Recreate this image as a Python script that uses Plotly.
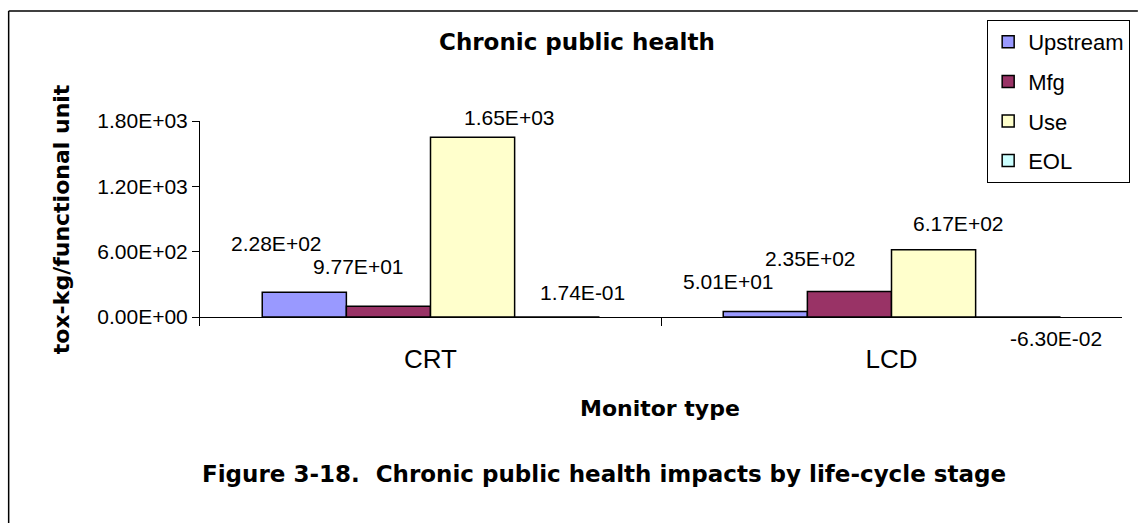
import plotly.graph_objects as go

categories = ["CRT", "LCD"]
series_names = ["Upstream", "Mfg", "Use", "EOL"]
upstream = [228, 50.1]
mfg = [97.7, 235]
use = [1650, 617]
eol = [0.174, -0.063]
labels_upstream = ["2.28E+02", "5.01E+01"]
labels_mfg = ["9.77E+01", "2.35E+02"]
labels_use = ["1.65E+03", "6.17E+02"]
labels_eol = ["1.74E-01", "-6.30E-02"]
tick_vals = [0, 600, 1200, 1800]
tick_text = ["0.00E+00", "6.00E+02", "1.20E+03", "1.80E+03"]

colors = ["#9999FF", "#993366", "#FFFFCC", "#CCFFFF"]
values = [upstream, mfg, use, eol]
texts = [labels_upstream, labels_mfg, labels_use, labels_eol]
# label offsets (px) relative to bar centre / bar top, per series per category
label_dx = [[-27, -36], [-30, -39], [37, 25], [25, 37]]
label_dy = [[49, 30], [40, 33], [20, 26], [24, -21]]

W, H = 1141, 523
ML, MR, MT, MB = 200, 11, 121, 197
PW, PH = W - ML - MR, H - MT - MB
BARGAP = 0.27
FONT = "Liberation Sans, Arial, sans-serif"
BOLD = "DejaVu Sans, sans-serif"


def px_x(p):
    return (p - ML) / PW


def px_y(p):
    return (H - MB - p) / PH


fig = go.Figure()
for name, vals, col in zip(series_names, values, colors):
    fig.add_trace(go.Bar(
        name=name, x=categories, y=vals, legendgroup=name,
        marker=dict(color=col, line=dict(color="black", width=1.5)),
    ))

bar_w = PW / len(categories) * (1 - BARGAP) / len(series_names)
annotations = []
for i, (txts, vals) in enumerate(zip(texts, values)):
    off = (i - (len(series_names) - 1) / 2) * bar_w
    for j, cat in enumerate(categories):
        annotations.append(dict(
            x=cat, y=max(vals[j], 0), xref="x", yref="y", text=txts[j],
            showarrow=False, xshift=off + label_dx[i][j], yshift=label_dy[i][j],
            xanchor="center", yanchor="middle",
            font=dict(family=FONT, size=21, color="black"),
        ))


def paper_text(text, x, y, size, angle=0):
    return dict(x=px_x(x), y=px_y(y), xref="paper", yref="paper", text=text,
                showarrow=False, textangle=angle, xanchor="center",
                yanchor="middle", font=dict(family=BOLD, size=size, color="black"))


annotations += [
    paper_text("<b>Chronic public health</b>", 580, 42, 23),
    paper_text("<b>tox-kg/functional unit</b>", 60, 219, 22, -90),
    paper_text("<b>Monitor type</b>", 664, 408, 22),
    paper_text("<b>Figure 3-18.  Chronic public health impacts by life-cycle stage</b>",
               608, 474, 23),
]

shapes = [
    dict(type="line", xref="paper", yref="paper", x0=px_x(7), x1=px_x(7),
         y0=px_y(11), y1=px_y(H + 5), line=dict(color="black", width=1.5)),
    dict(type="line", xref="paper", yref="paper", x0=px_x(7), x1=px_x(W + 5),
         y0=px_y(11), y1=px_y(11), line=dict(color="black", width=1.5)),
]

ymin = -1800 * 9 / 196
fig.update_layout(
    width=W, height=H, autosize=False,
    margin=dict(l=ML, r=MR, t=MT, b=MB),
    paper_bgcolor="white", plot_bgcolor="white",
    barmode="group", bargap=BARGAP, bargroupgap=0,
    font=dict(family=FONT, size=20, color="black"),
    showlegend=True,
    legend=dict(x=px_x(994), y=px_y(20), xanchor="left", yanchor="top",
                bordercolor="black", borderwidth=1, bgcolor="white",
                tracegroupgap=8, font=dict(family=FONT, size=22),
                itemwidth=30),
    annotations=annotations, shapes=shapes,
    xaxis=dict(showline=False, ticks="inside", ticklen=9, tickcolor="black",
               tickson="boundaries", tickfont=dict(family=FONT, size=26),
               ticklabelstandoff=15, showgrid=False, zeroline=False),
    yaxis=dict(range=[ymin, 1800], tickvals=tick_vals, ticktext=tick_text,
               showline=True, linecolor="black", linewidth=1, ticks="outside",
               ticklen=7, tickcolor="black", showgrid=False, zeroline=True,
               zerolinecolor="black", zerolinewidth=1,
               tickfont=dict(family=FONT, size=21)),
)

fig.write_html("out.html", config={"displayModeBar": False},
               post_script="document.body.style.margin='0';")
